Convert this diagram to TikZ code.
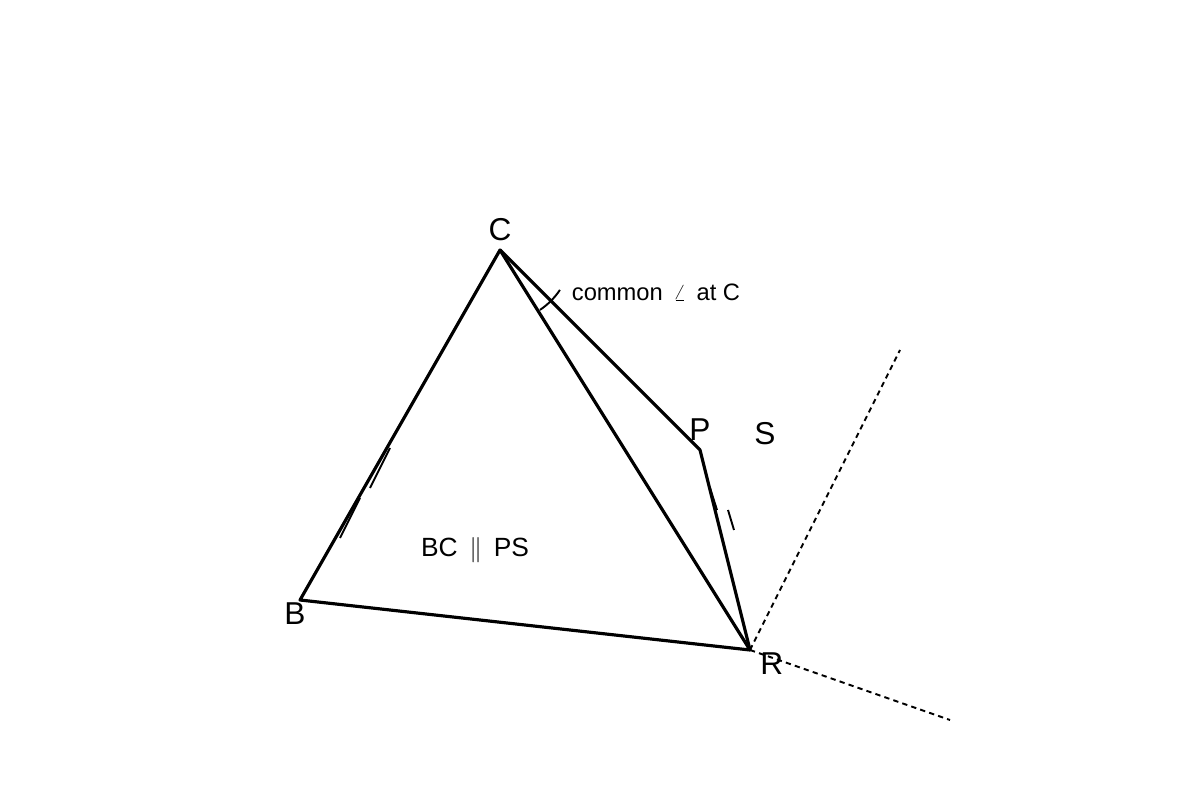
\documentclass[tikz,border=0pt]{standalone}
\usepackage{fontspec}
\setmainfont{Liberation Sans}
\usetikzlibrary{positioning}

\begin{document}
\begin{tikzpicture}[every node/.style={inner sep=0pt},
    side/.style={line width=1.8pt, line join=round},
    guide/.style={line width=1.1pt, dash pattern=on 3pt off 2.4pt},
    tick/.style={line width=1.1pt},
    vlabel/.style={font=\fontsize{18}{21}\selectfont},
    note/.style={font=\fontsize{13.5}{16}\selectfont}]
    \useasboundingbox (0,0) rectangle (24,16);

    % points
    \coordinate (C) at (10,11);
    \coordinate (B) at (6,4);
    \coordinate (R) at (15,3);
    \coordinate (P) at (14,7);
    \coordinate (g1) at (18,9);
    \coordinate (g2) at (19,1.6);

    % triangle and quadrilateral
    \draw[side] (B) -- (C) -- (R) -- cycle;
    \draw[side] (C) -- (P) -- (R);

    % dotted guides from R
    \draw[guide] (R) -- (g1);
    \draw[guide] (R) -- (g2);

    % equal marks on BC
    \coordinate (t1a) at (7.8,7.04);
    \coordinate (t1b) at (7.4,6.24);
    \coordinate (t2a) at (7.2,6.04);
    \coordinate (t2b) at (6.8,5.24);
    \draw[tick] (t1a) -- (t1b);
    \draw[tick] (t2a) -- (t2b);

    % marks on PR
    \coordinate (t3a) at (14.2,6.24);
    \coordinate (t3b) at (14.34,5.8);
    \coordinate (t4a) at (14.56,5.8);
    \coordinate (t4b) at (14.68,5.4);
    \draw[tick] (t3a) -- (t3b);
    \draw[tick] (t4a) -- (t4b);

    % angle mark at C
    \draw[tick] ([shift={(-56.3:1.44)}]C) arc (-56.3:-33.7:1.44);

    % labels
    \node[vlabel, above=0.18cm of C] (lC) {C};
    \node[vlabel, above=0.18cm of P] (lP) {P};
    \node[vlabel] (lS) at (15.3,7.32) {S};
    \node[vlabel, below=0.04cm of B, xshift=-0.1cm] (lB) {B};
    \node[vlabel, below right=0.04cm and 0.2cm of R] (lR) {R};

    \node[note] (common) at (13.12,10.16) {common \,$\angle$\, at C};
    \node[note, font=\fontsize{15}{18}\selectfont] (par) at (9.5,5) {BC \,$\parallel$\, PS};
\end{tikzpicture}
\end{document}
